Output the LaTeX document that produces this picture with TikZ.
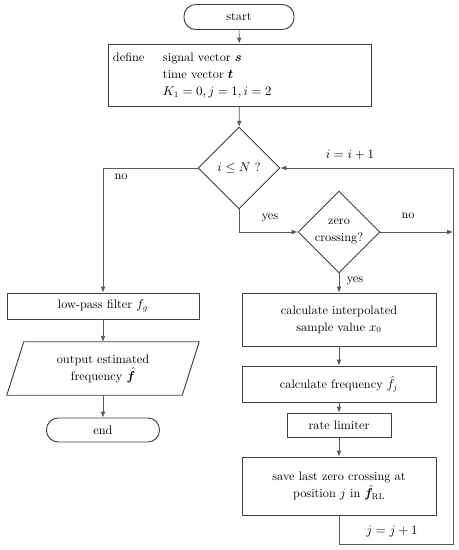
\documentclass[tikz,border=0pt]{standalone}
\usepackage{amsmath,amssymb}
\usepackage{bm}
\usetikzlibrary{shapes.geometric,calc,arrows.meta}

\begin{document}
\begin{tikzpicture}[
  x=0.03cm, y=-0.03cm,
  font=\fontsize{10.5}{14.5}\selectfont,
  proc/.style={draw=black!75, line width=0.8pt, minimum width=5.82cm, align=center, inner sep=2pt},
  term/.style={draw=black!75, line width=0.8pt, rounded corners=10pt, minimum height=0.72cm, inner sep=2pt},
  decision/.style={draw=black!75, line width=0.8pt, diamond, aspect=1, minimum size=2.46cm, inner sep=0pt, align=center},
  arrow/.style={draw=black!65, line width=0.6pt, -{Latex[length=5pt,width=4pt]}},
  line/.style={draw=black!65, line width=0.6pt},
  lbl/.style={inner sep=1pt}
]
\useasboundingbox (0,0) rectangle (459,550);
% Start and initialisation
\node[term, minimum width=3.3cm, minimum height=0.75cm] (start) at (239,17) {start};
\node[proc, minimum height=1.86cm, text width=7.59cm, inner xsep=0.15cm, align=left] (def) at (239.5,75)
  {\begin{tabular}{@{}p{1.5cm}@{}l@{}}
   define & signal vector $\bm{s}$\\
          & time vector $\bm{t}$\\
          & $K_1 = 0, j = 1, i = 2$
   \end{tabular}};
% Decisions
\node[decision] (cond) at (239,168) {$i \leq N$ ?};
\node[decision] (zero) at (339,232) {zero\\crossing?};
% Left branch
\node[proc, minimum width=5.76cm, minimum height=0.78cm] (lp) at (103,306) {low-pass filter $f_g$};
\node[minimum width=5.76cm, minimum height=1.59cm, align=center, inner sep=2pt] (out) at (103,368.5)
  {output estimated\\frequency $\hat{\bm{f}}$};
\draw[draw=black!75, line width=0.8pt] ($(out.north west)+(17,0)$) -- (out.north east)
  -- ($(out.south east)-(17,0)$) -- (out.south west) -- cycle;
\node[term, minimum width=3.39cm] (end) at (103,430) {end};
% Right branch
\node[proc, minimum height=1.59cm] (interp) at (339,319.5) {calculate interpolated\\sample value $x_0$};
\node[proc, minimum height=1.08cm] (freq) at (339,384) {calculate frequency $\hat{f}_j$};
\node[proc, minimum width=3.12cm, minimum height=0.72cm] (rate) at (339,425) {rate limiter};
\node[proc, minimum height=1.74cm] (save) at (339,486)
  {save last zero crossing at\\position $j$ in $\hat{\bm{f}}_{\mathrm{RL}}$};
% Loop return
\coordinate (loop) at (453,544);
% Connectors
\draw[arrow] (start) -- (def);
\draw[arrow] (def) -- (cond);
\draw[arrow] (cond.west) -| (lp.north);
\draw[arrow] (cond.south) |- (zero.west);
\draw[arrow] (zero.east) -- (zero.east -| loop);
\draw[arrow] (zero) -- (interp);
\draw[arrow] (interp) -- (freq);
\draw[arrow] (freq) -- (rate);
\draw[arrow] (rate) -- (save);
\draw[arrow] (save.south) |- (loop) |- (cond.east);
\draw[arrow] (lp) -- (out);
\draw[arrow] (out) -- (end);
% Labels
\node[lbl] (nocond) at (121,177) {no};
\node[lbl] (yescond) at (270,218) {yes};
\node[lbl] (inc i) at (350,155) {$i = i + 1$};
\node[lbl] (nozero) at (408,216) {no};
\node[lbl] (yeszero) at (355,281) {yes};
\node[lbl] (inc j) at (392,532) {$j = j + 1$};
\end{tikzpicture}
\end{document}
